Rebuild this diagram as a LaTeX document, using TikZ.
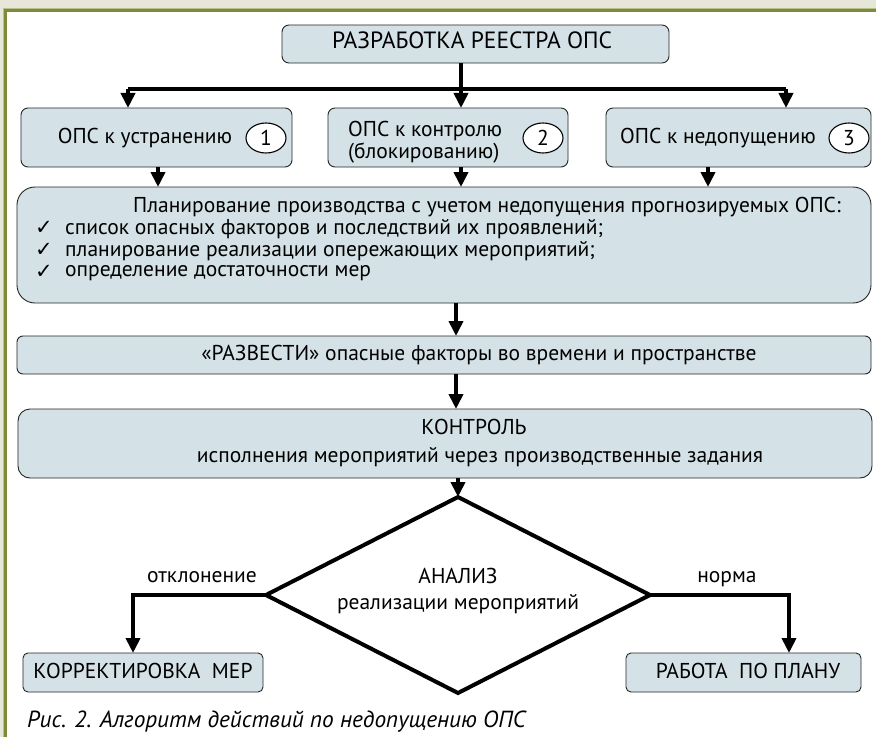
\documentclass[tikz,border=0pt]{standalone}
\usepackage{fontspec}
\setmainfont{PT Sans}
\newfontfamily\symf{DejaVu Sans}
\usetikzlibrary{arrows.meta,shapes.geometric}
\definecolor{boxc}{RGB}{212,226,231}
\definecolor{beige}{RGB}{230,230,217}
\definecolor{olive}{RGB}{123,139,58}
\definecolor{lolive}{RGB}{185,192,142}
\begin{document}
\begin{tikzpicture}[x=1bp,y=-1bp,
  box/.style={draw=black!85, line width=0.9bp, fill=boxc, rounded corners=7bp, inner sep=0pt, outer sep=0pt},
  arr/.style={line width=4bp, -{Triangle[width=14bp,length=15bp]}},
  ln/.style={line width=4bp},
  txt/.style={font=\fontsize{21.5bp}{22bp}\selectfont, inner sep=0pt, anchor=mid},
  bigtxt/.style={font=\fontsize{23.5bp}{24bp}\selectfont, inner sep=0pt, anchor=mid},
  chk/.style={font=\symf\fontsize{21bp}{22bp}\selectfont, inner sep=0pt},
  cnum/.style={draw=black, line width=1.1bp, fill=white, ellipse, minimum width=40bp, minimum height=30bp, inner sep=0pt, font=\fontsize{21.5bp}{22bp}\selectfont},
]
% background and frame
\fill[beige] (0,0) rectangle (876,737);
\fill[lolive] (3,8) rectangle (876,737);
\fill[olive] (4,9) rectangle (876,737);
\fill[white] (7,12) rectangle (876,737);
\useasboundingbox (0,0) rectangle (876,737);

% boxes
\node[box, minimum width=387bp, minimum height=38bp] (title) at (475.5,44) {};
\node[bigtxt] (ttitle) at (472,46) {РАЗРАБОТКА РЕЕСТРА ОПС};

\node[box, minimum width=271bp, minimum height=59bp] (b1) at (156.5,137.5) {};
\node[txt] (tb1) at (145,141) {ОПС к устранению};
\node[cnum] (c1) at (266,138) {1};

\node[box, minimum width=240bp, minimum height=59bp] (b2) at (448,137.5) {};
\node[txt, anchor=west, align=left] (tb2) at (348,142) {ОПС к контролю\\(блокированию)};
\node[cnum] (c2) at (543,138) {2};

\node[box, minimum width=265bp, minimum height=59bp] (b3) at (738.5,137.5) {};
\node[txt] (tb3) at (718,141) {ОПС к недопущению};
\node[cnum] (c3) at (849,138) {3};

\node[box, rounded corners=18bp, minimum width=854bp, minimum height=116bp] (plan) at (444,245) {};
\node[txt, anchor=west] (tp0) at (133,207) {Планирование производства с учетом недопущения прогнозируемых ОПС:};
\node[txt, anchor=west] (tp1) at (65,229) {список опасных факторов и последствий их проявлений;};
\node[txt, anchor=west] (tp2) at (65,251) {планирование реализации опережающих мероприятий;};
\node[txt, anchor=west] (tp3) at (65,273) {определение достаточности мер};
\node[chk] (k1) at (44,228) {✓};
\node[chk] (k2) at (44,250) {✓};
\node[chk] (k3) at (44,272) {✓};

\node[box, rounded corners=6bp, minimum width=854bp, minimum height=38bp] (razv) at (444,355) {};
\node[txt] (trazv) at (479,358) {«РАЗВЕСТИ» опасные факторы во времени и пространстве};

\node[box, rounded corners=12bp, minimum width=854bp, minimum height=69bp] (kont) at (445,443.5) {};
\node[txt] (tk1) at (474,432) {КОНТРОЛЬ};
\node[txt] (tk2) at (480,460) {исполнения мероприятий через производственные задания};

\node[draw=black, line width=4bp, fill=white, diamond, minimum width=384bp, minimum height=196bp, inner sep=0pt, outer sep=0pt] (dia) at (458,595) {};
\node[txt] (td1) at (458,581) {АНАЛИЗ};
\node[txt] (td2) at (458,607) {реализации мероприятий};

\node[box, rounded corners=5bp, minimum width=240bp, minimum height=39bp] (korr) at (143,672.5) {};
\node[txt] (tkorr) at (143,676) {КОРРЕКТИРОВКА\ \ МЕР};
\node[box, rounded corners=5bp, minimum width=235bp, minimum height=39bp] (rab) at (743.5,672.5) {};
\node[txt] (trab) at (748,676) {РАБОТА\ \ ПО ПЛАНУ};

\node[txt] (lotk) at (202,580) {отклонение};
\node[txt] (lnorm) at (727,580) {норма};

\node[anchor=west, inner sep=0pt, font=\fontsize{23.3bp}{24bp}\selectfont\itshape] (cap) at (27,722) {Рис. 2. Алгоритм действий по недопущению ОПС};

% connectors
\coordinate (xa) at (128,0);
\coordinate (xb) at (461,0);
\coordinate (xc) at (786,0);
\coordinate (hy) at (0,89);
\draw[ln] (title.south -| xb) -- (xb |- hy);
\draw[ln] (xa |- hy) -- (xc |- hy);
\draw[arr] (xa |- hy) -- (b1.north -| xa);
\draw[arr] (xb |- hy) -- (b2.north -| xb);
\draw[arr] (xc |- hy) -- (b3.north -| xc);

\coordinate (x1) at (158,0);
\coordinate (x3) at (708,0);
\draw[arr] (b1.south -| x1) -- (plan.north -| x1);
\draw[arr] (b2.south -| xb) -- (plan.north -| xb);
\draw[arr] (b3.south -| x3) -- (plan.north -| x3);

\coordinate (xm) at (456,0);
\draw[arr] (plan.south -| xm) -- (razv.north -| xm);
\draw[arr] (razv.south -| xm) -- (kont.north -| xm);
\draw[arr] (kont.south -| dia.north) -- (dia.north);

\coordinate (xk) at (133,0);
\coordinate (xr) at (789,0);
\draw[arr] (dia.west) -| (korr.north -| xk);
\draw[arr] (dia.east) -| (rab.north -| xr);
\end{tikzpicture}
\end{document}
